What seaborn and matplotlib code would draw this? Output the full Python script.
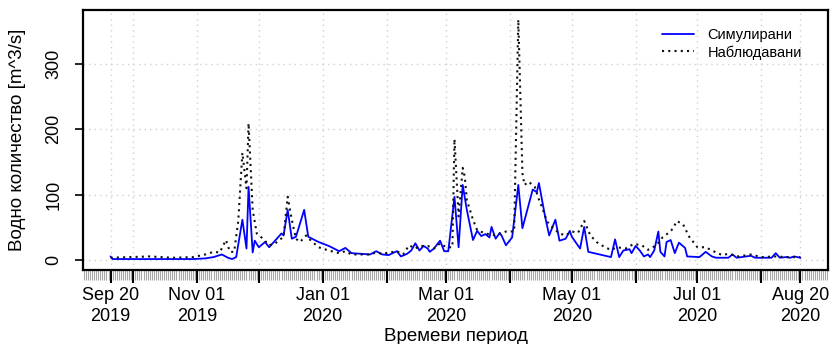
import numpy as np
import pandas as pd
import matplotlib
matplotlib.use("Agg")
import matplotlib.pyplot as plt
import matplotlib.dates as mdates
import seaborn as sns

# ---------------- data ----------------
start_date = "2019-09-20"

sim_day = [0, 1, 20, 40, 46, 50, 54, 57, 59, 61, 64, 66, 67, 69, 70, 72, 75, 77, 83, 84,
           86, 88, 90, 91, 94, 96, 101, 106, 111, 114, 117, 126, 129, 132, 135, 139, 141,
           144, 146, 148, 150, 152, 154, 155, 157, 160, 162, 164, 167, 169, 171, 173, 176,
           178, 180, 182, 184, 185, 187, 189, 190, 192, 195, 198, 200, 205, 207, 208, 211,
           213, 216, 218, 221, 223, 224, 228, 230, 232, 243, 245, 247, 249, 252, 253, 255,
           257, 259, 261, 262, 264, 266, 267, 269, 270, 272, 274, 276, 279, 280, 286, 289,
           292, 294, 300, 302, 304, 311, 313, 321, 323, 325, 328, 330, 332, 335]
sim_val = [6, 2, 2, 2, 3, 5, 9, 4, 2, 5, 62, 18, 112, 12, 30, 20, 28, 20, 41, 38,
           77, 33, 36, 46, 77, 36, 28, 22, 14, 19, 11, 9, 14, 9, 8, 14, 6,
           10, 15, 26, 15, 22, 18, 13, 18, 30, 14, 14, 97, 20, 115, 77, 31,
           45, 37, 40, 35, 51, 33, 42, 37, 23, 35, 115, 49, 108, 104, 118, 67,
           38, 62, 30, 33, 45, 36, 18, 51, 13, 5, 32, 5, 15, 17, 11, 22,
           15, 6, 9, 5, 15, 44, 13, 6, 28, 31, 11, 27, 19, 6, 5, 13,
           6, 4, 4, 9, 4, 7, 4, 4, 11, 4, 5, 4, 6, 4]

obs_day = [0, 19, 30, 40, 46, 50, 53, 56, 58, 60, 62, 64, 66, 67, 69, 71, 74, 77, 80, 84,
           86, 88, 90, 92, 95, 97, 101, 106, 111, 114, 117, 126, 129, 132, 139, 142, 145,
           148, 150, 154, 157, 160, 163, 166, 167, 169, 171, 172, 173, 176, 178, 182, 187,
           192, 196, 198, 200, 201, 203, 206, 208, 210, 212, 215, 218, 221, 224, 227, 230,
           233, 236, 240, 243, 246, 250, 254, 258, 261, 265, 268, 271, 273, 275, 278, 281,
           285, 289, 292, 297, 300, 305, 311, 316, 323, 328, 335]
obs_val = [4, 6, 4, 5, 9, 13, 12, 31, 13, 13, 60, 164, 110, 209, 77, 41, 33, 23, 26, 36,
           97, 62, 33, 28, 38, 31, 20, 15, 11, 14, 9, 9, 12, 10, 14, 9, 23,
           18, 22, 22, 18, 26, 20, 20, 185, 67, 141, 128, 92, 62, 46, 41, 38,
           44, 44, 367, 133, 115, 120, 112, 93, 77, 59, 49, 41, 38, 44, 42, 60,
           38, 28, 20, 16, 20, 18, 25, 23, 16, 23, 35, 42, 48, 60, 55, 36,
           20, 20, 15, 8, 10, 6, 9, 5, 6, 5, 5]

tick_dates = ["2019-09-20", "2019-10-01", "2019-11-01", "2019-12-01", "2020-01-01",
              "2020-02-01", "2020-03-01", "2020-04-01", "2020-05-01", "2020-06-01",
              "2020-07-01", "2020-08-01", "2020-08-20"]
tick_labels = ["Sep 20\n2019", "", "Nov 01\n2019", "", "Jan 01\n2020", "",
               "Mar 01\n2020", "", "May 01\n2020", "", "Jul 01\n2020", "",
               "Aug 20\n2020"]
y_ticks = [0, 100, 200, 300]

series_names = ["Симулирани", "Наблюдавани"]
x_title = "Времеви период"
y_title = "Водно количество [m^3/s]"

# ---------------- build frames ----------------
t0 = pd.Timestamp(start_date)
sim_df = pd.DataFrame({"date": t0 + pd.to_timedelta(sim_day, unit="D"), "q": sim_val})
obs_df = pd.DataFrame({"date": t0 + pd.to_timedelta(obs_day, unit="D"), "q": obs_val})

sns.set_style("white")
plt.rcParams["font.family"] = ["Liberation Sans", "DejaVu Sans"]
plt.rcParams["text.color"] = "black"
plt.rcParams["axes.labelcolor"] = "black"
plt.rcParams["xtick.color"] = "black"
plt.rcParams["ytick.color"] = "black"

fig = plt.figure(figsize=(8.32, 3.44), dpi=100)
ax = fig.add_axes([83 / 832, 1 - 270 / 344, 745 / 832, 260 / 344])

sns.lineplot(data=sim_df, x="date", y="q", ax=ax, color="#0000ff", lw=1.3,
             label=series_names[0])
sns.lineplot(data=obs_df, x="date", y="q", ax=ax, color="#111111", lw=1.5,
             label=series_names[1])
ax.lines[1].set_linestyle((0, (1, 2)))

# limits like R (4 % extension)
d_start = mdates.date2num(pd.Timestamp(start_date))
d_end = mdates.date2num(pd.Timestamp(tick_dates[-1]))
ext = (d_end - d_start) * 0.04
ax.set_xlim(d_start - ext, d_end + ext)
ymax = max(max(sim_val), max(obs_val))
ax.set_ylim(-0.04 * ymax, ymax * 1.04)

# ticks
ax.set_xticks([mdates.date2num(pd.Timestamp(d)) for d in tick_dates])
ax.set_xticklabels(tick_labels, fontsize=13, linespacing=1.25, color="black")
ax.xaxis.set_minor_locator(mdates.DayLocator())
ax.tick_params(axis="x", which="major", direction="out", length=9.5, width=1.5,
               color="black", pad=3, bottom=True)
ax.tick_params(axis="x", which="minor", direction="out", length=7.5, width=0.8,
               color="#a8a8a8", bottom=True)
ax.set_yticks(y_ticks)
ax.set_yticklabels([str(v) for v in y_ticks], fontsize=13, rotation=90, va="center",
                   color="black")
ax.tick_params(axis="y", which="major", direction="out", length=6, width=1.2,
               color="black", pad=9, left=True)

# grid
ax.grid(True, which="major", color="#cfcfcf", linestyle=(0, (1, 3)), lw=1.0)
ax.set_axisbelow(True)

for s in ax.spines.values():
    s.set_linewidth(1.6)
    s.set_color("black")

ax.set_xlabel(x_title, fontsize=13.5, color="black")
ax.xaxis.set_label_coords(0.5, -0.255)
ax.xaxis.label.set_va("center")
ax.set_ylabel(y_title, fontsize=13.5, color="black")
ax.yaxis.set_label_coords(-0.088, 0.5)
ax.yaxis.label.set_va("center")

leg = ax.legend(loc="upper right", bbox_to_anchor=(0.965, 0.93), frameon=False,
                fontsize=10.5, handlelength=2.2, handletextpad=0.9, labelspacing=0.2,
                borderpad=0, borderaxespad=0)
for t in leg.get_texts():
    t.set_color("black")

fig.savefig("out.png", dpi=100)
